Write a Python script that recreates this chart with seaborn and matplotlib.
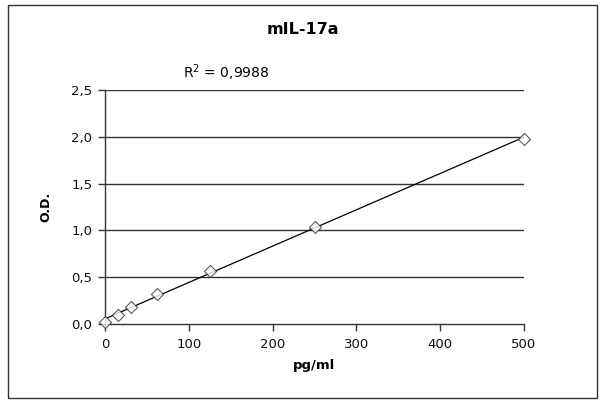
import matplotlib
matplotlib.use("Agg")
import matplotlib.pyplot as plt
import seaborn as sns
import numpy as np
import pandas as pd
from matplotlib.patches import Rectangle

conc = [0, 15.6, 31.25, 62.5, 125, 250, 500]
od = [0.02, 0.10, 0.18, 0.32, 0.57, 1.04, 1.98]
y_ticks = [0.0, 0.5, 1.0, 1.5, 2.0, 2.5]
x_ticks = [0, 100, 200, 300, 400, 500]
title = "mIL-17a"
r2_text = "R$^2$ = 0,9988"

sns.set_theme(style="white")
plt.rcParams['font.family'] = ['DejaVu Sans']
plt.rcParams['text.color'] = 'black'
plt.rcParams['axes.labelcolor'] = 'black'

df = pd.DataFrame({"pg/ml": conc, "OD": od})

fig = plt.figure(figsize=(6.08, 4.08), dpi=100)
ax = fig.add_axes([105/608, 1-324/408, (524-105)/608, (324-90)/408])

sns.regplot(data=df, x="pg/ml", y="OD", ax=ax, ci=None, marker="D",
            scatter_kws=dict(s=38, facecolor="white", edgecolor="#333333",
                             linewidths=0.8, clip_on=False, zorder=4),
            line_kws=dict(color="black", lw=0.9, zorder=3))

ax.set_xlim(0, 500)
ax.set_ylim(0, 2.5)
ax.set_xticks(x_ticks)
ax.set_yticks(y_ticks)
ax.set_yticklabels([f"{v:.1f}".replace(".", ",") for v in y_ticks])
ax.set_xticklabels([str(v) for v in x_ticks])
for v in y_ticks[1:]:
    ax.axhline(v, color="#333333", lw=1.0, zorder=1)
for s in ["top", "right"]:
    ax.spines[s].set_visible(False)
for s in ["left", "bottom"]:
    ax.spines[s].set_color("#333333")
    ax.spines[s].set_linewidth(1.0)
ax.tick_params(axis="both", direction="out", length=5, width=1.0,
               color="#333333", labelsize=9.5, labelcolor="#111111",
               bottom=True, left=True)
ax.tick_params(axis="y", pad=4)
ax.tick_params(axis="x", pad=5)

ax.set_xlabel("pg/ml", fontsize=9.5, fontweight="bold", labelpad=6, color="black")
ax.set_ylabel("O.D.", fontsize=9, fontweight="bold", labelpad=14, color="black")

fig.text(303/608, 1-30/408, title, ha="center", va="center",
         fontsize=11.5, fontweight="bold", color="black")
fig.text(226/608, 1-73/408, r2_text, ha="center", va="center", fontsize=10,
         color="black")

fig.patches.append(Rectangle((8/608, 1-398/408), (597-8)/608, (398-5)/408,
                             transform=fig.transFigure, fill=False,
                             edgecolor="#333333", lw=1.0))

fig.savefig("out.png", dpi=100)
